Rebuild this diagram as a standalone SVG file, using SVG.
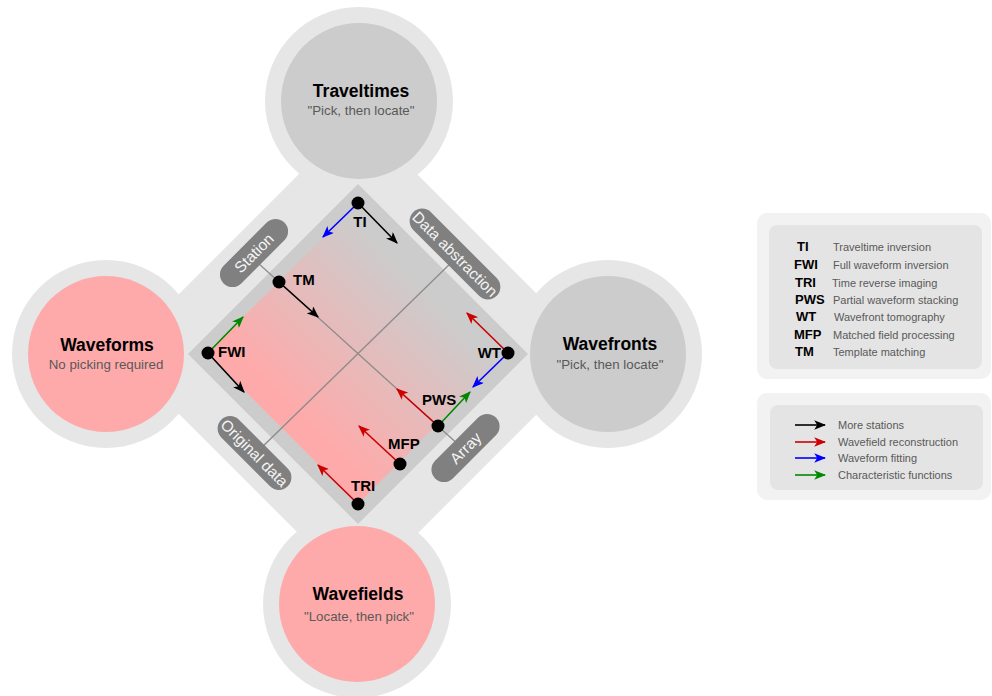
<svg xmlns="http://www.w3.org/2000/svg" width="992" height="696" viewBox="0 0 992 696">
<style>
.ring{fill:#e6e6e6}
.grey{fill:#cccccc}
.pink{fill:#ffaaaa}
.title{font-family:"Liberation Sans",Arial,sans-serif;font-weight:bold;font-size:17.5px;fill:#000;text-anchor:middle}
.sub{font-family:"Liberation Sans",Arial,sans-serif;font-size:13.3px;fill:#595959;text-anchor:middle}
.pill rect{fill:#808080}
.pill text{font-family:"Liberation Sans",Arial,sans-serif;font-size:15.5px;fill:#f4f4f4;text-anchor:middle}
.lbl{font-family:"Liberation Sans",Arial,sans-serif;font-weight:bold;font-size:15px;fill:#000}
.dot{fill:#000}
.gl{stroke:#8c8c8c;stroke-width:1.3;fill:none}
.a{stroke-width:1.6;fill:none}
.k{stroke:#000;marker-end:url(#ak)}
.r{stroke:#cc0000;marker-end:url(#ar)}
.b{stroke:#0000ff;marker-end:url(#ab)}
.g{stroke:#008800;marker-end:url(#ag)}
.lab{font-family:"Liberation Sans",Arial,sans-serif;font-weight:bold;font-size:13px;fill:#000}
.ldesc{font-family:"Liberation Sans",Arial,sans-serif;font-size:11px;fill:#595959}
.lout{fill:#f2f2f2}
.lin{fill:#e4e4e4}
</style>
<defs>
<linearGradient id="grad" x1="0" y1="1" x2="1" y2="0">
<stop offset="0.3" stop-color="#ffaaaa"/>
<stop offset="0.72" stop-color="#cccccc"/>
</linearGradient>
<marker id="ak" viewBox="0 0 10 8" refX="9" refY="4" markerWidth="12" markerHeight="9.6" markerUnits="userSpaceOnUse" orient="auto"><path d="M0,0 L10,4 L0,8 L2.5,4 Z" fill="#000"/></marker>
<marker id="ar" viewBox="0 0 10 8" refX="9" refY="4" markerWidth="12" markerHeight="9.6" markerUnits="userSpaceOnUse" orient="auto"><path d="M0,0 L10,4 L0,8 L2.5,4 Z" fill="#cc0000"/></marker>
<marker id="ab" viewBox="0 0 10 8" refX="9" refY="4" markerWidth="12" markerHeight="9.6" markerUnits="userSpaceOnUse" orient="auto"><path d="M0,0 L10,4 L0,8 L2.5,4 Z" fill="#0000ff"/></marker>
<marker id="ag" viewBox="0 0 10 8" refX="9" refY="4" markerWidth="12" markerHeight="9.6" markerUnits="userSpaceOnUse" orient="auto"><path d="M0,0 L10,4 L0,8 L2.5,4 Z" fill="#008800"/></marker>
</defs>

<g id="background">
<polygon class="ring" points="358,115 597,354 358,593 119,354"/>
<circle class="ring" cx="359" cy="101" r="94"/>
<circle class="ring" cx="106" cy="354" r="94"/>
<circle class="ring" cx="608" cy="354" r="94"/>
<circle class="ring" cx="357" cy="604" r="94"/>
</g>

<g id="traveltimes">
<circle class="grey" cx="359" cy="101" r="78"/>
<text class="title" x="361" y="97">Traveltimes</text>
<text class="sub" x="361" y="115">"Pick, then locate"</text>
</g>
<g id="waveforms">
<circle class="pink" cx="106" cy="354" r="78"/>
<text class="title" x="107" y="351">Waveforms</text>
<text class="sub" x="106" y="369">No picking required</text>
</g>
<g id="wavefronts">
<circle class="grey" cx="608" cy="354" r="78"/>
<text class="title" x="610" y="350">Wavefronts</text>
<text class="sub" x="610" y="369">"Pick, then locate"</text>
</g>
<g id="wavefields">
<circle class="pink" cx="357" cy="604" r="78"/>
<text class="title" x="358" y="600">Wavefields</text>
<text class="sub" x="359" y="621">"Locate, then pick"</text>
</g>

<g id="diamond">
<polygon class="grey" points="358,184 528,354 358,524 188,354"/>
<polygon fill="url(#grad)" points="358,203 508,353 358,504 207,353"/>
</g>

<g id="connectors">
<line class="gl" x1="250" y1="255.7" x2="466" y2="451.4"/>
<line class="gl" x1="455" y1="259" x2="254" y2="455"/>
<line class="a b" x1="358" y1="203" x2="323" y2="237"/>
<line class="a k" x1="358" y1="203" x2="397" y2="243"/>
<line class="a k" x1="279" y1="282" x2="318" y2="317"/>
<line class="a g" x1="208" y1="353" x2="243" y2="317"/>
<line class="a k" x1="208" y1="353" x2="244" y2="392"/>
<line class="a r" x1="508" y1="353" x2="467" y2="313"/>
<line class="a b" x1="508" y1="353" x2="473" y2="387"/>
<line class="a r" x1="438" y1="426" x2="397" y2="389"/>
<line class="a g" x1="438" y1="426" x2="470" y2="392"/>
<line class="a r" x1="400" y1="464" x2="359" y2="426"/>
<line class="a r" x1="358" y1="504" x2="318" y2="465"/>
</g>

<g id="pill-station" class="pill" transform="translate(254,253) rotate(-45)">
<rect x="-43" y="-12.5" width="86" height="25" rx="12.5"/>
<text x="0" y="5.5">Station</text>
</g>
<g id="pill-data-abstraction" class="pill" transform="translate(455,254) rotate(45)">
<rect x="-59" y="-12.5" width="118" height="25" rx="12.5"/>
<text x="0" y="5.5">Data abstraction</text>
</g>
<g id="pill-original-data" class="pill" transform="translate(254.5,453) rotate(45)">
<rect x="-47" y="-12.5" width="94" height="25" rx="12.5"/>
<text x="0" y="5.5">Original data</text>
</g>
<g id="pill-array" class="pill" transform="translate(465.5,448) rotate(-45)">
<rect x="-43" y="-12.5" width="86" height="25" rx="12.5"/>
<text x="0" y="5.5">Array</text>
</g>

<g id="node-TI"><circle class="dot" cx="358" cy="203" r="6.5"/><text class="lbl" x="360" y="227" text-anchor="middle">TI</text></g>
<g id="node-TM"><circle class="dot" cx="279" cy="282" r="6.5"/><text class="lbl" x="293" y="285">TM</text></g>
<g id="node-FWI"><circle class="dot" cx="208" cy="353" r="6.5"/><text class="lbl" x="218" y="357">FWI</text></g>
<g id="node-WT"><circle class="dot" cx="508" cy="353" r="6.5"/><text class="lbl" x="501" y="358" text-anchor="end">WT</text></g>
<g id="node-PWS"><circle class="dot" cx="438" cy="426" r="6.5"/><text class="lbl" x="422" y="405">PWS</text></g>
<g id="node-MFP"><circle class="dot" cx="400" cy="464" r="6.5"/><text class="lbl" x="388" y="449">MFP</text></g>
<g id="node-TRI"><circle class="dot" cx="358" cy="504" r="6.5"/><text class="lbl" x="351" y="491">TRI</text></g>

<g id="legend-methods">
<rect class="lout" x="757" y="213" width="234" height="166" rx="10"/>
<rect class="lin" x="769" y="225" width="213" height="144" rx="8"/>
<text class="lab" x="797" y="251">TI</text><text class="ldesc" x="833" y="251">Traveltime inversion</text>
<text class="lab" x="794" y="269">FWI</text><text class="ldesc" x="833" y="269">Full waveform inversion</text>
<text class="lab" x="795" y="287">TRI</text><text class="ldesc" x="832" y="287">Time reverse imaging</text>
<text class="lab" x="795" y="304">PWS</text><text class="ldesc" x="833" y="304">Partial waveform stacking</text>
<text class="lab" x="796" y="321">WT</text><text class="ldesc" x="834" y="321">Wavefront tomography</text>
<text class="lab" x="794" y="339">MFP</text><text class="ldesc" x="833" y="339">Matched field processing</text>
<text class="lab" x="795" y="356">TM</text><text class="ldesc" x="833" y="356">Template matching</text>
</g>

<g id="legend-arrows">
<rect class="lout" x="757" y="393" width="234" height="107" rx="10"/>
<rect class="lin" x="770" y="405" width="213" height="85" rx="8"/>
<line class="a k" x1="795" y1="425" x2="825" y2="425"/><text class="ldesc" x="838" y="429">More stations</text>
<line class="a r" x1="795" y1="442" x2="825" y2="442"/><text class="ldesc" x="838" y="446">Wavefield reconstruction</text>
<line class="a b" x1="795" y1="458" x2="825" y2="458"/><text class="ldesc" x="838" y="462">Waveform fitting</text>
<line class="a g" x1="795" y1="475" x2="825" y2="475"/><text class="ldesc" x="838" y="479">Characteristic functions</text>
</g>
</svg>
